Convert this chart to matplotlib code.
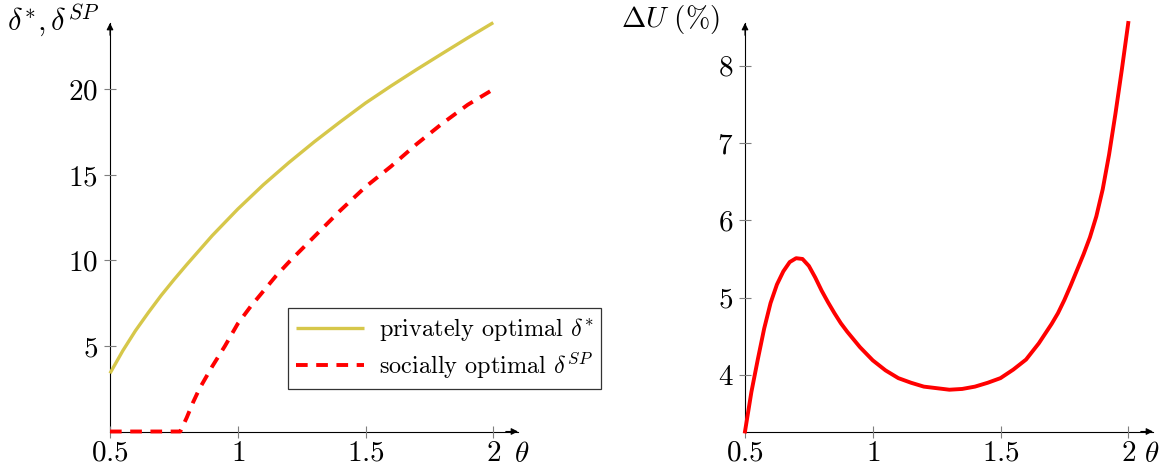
"""Optimal delta under private vs social choice, and welfare gain across theta."""
import numpy as np
import matplotlib
matplotlib.use('Agg')
import matplotlib.pyplot as plt

plt.rcParams['font.family'] = ['cmr10', 'DejaVu Serif']
plt.rcParams['mathtext.fontset'] = 'cm'
plt.rcParams['axes.unicode_minus'] = False

# left panel: privately vs socially optimal delta
theta_priv = [0.5, 0.55, 0.6, 0.65, 0.7, 0.75, 0.8, 0.9, 1.0, 1.1, 1.2, 1.3,
              1.4, 1.5, 1.6, 1.7, 1.8, 1.9, 2.0]
delta_priv = [3.4, 4.72, 5.9, 6.95, 7.95, 8.87, 9.75, 11.45, 13.0, 14.42, 15.72, 16.94,
              18.09, 19.2, 20.2, 21.16, 22.09, 23.01, 23.9]

theta_sp = [0.5, 0.6, 0.7, 0.775, 0.8, 0.825, 0.85, 0.9, 0.95, 1.0, 1.05, 1.1, 1.15, 1.2, 1.3,
            1.4, 1.5, 1.6, 1.7, 1.8, 1.9, 2.0]
delta_sp = [0.0, 0.0, 0.0, 0.0, 0.8, 1.7, 2.5, 3.8, 5.0, 6.3, 7.3, 8.2, 9.1, 9.9, 11.4,
            12.9, 14.3, 15.5, 16.8, 18.0, 19.1, 20.0]

# right panel: welfare gain in percent
theta_du = [0.5, 0.525, 0.55, 0.575, 0.6, 0.625, 0.65, 0.675, 0.7, 0.725, 0.75, 0.775, 0.8,
            0.825, 0.85, 0.875, 0.9, 0.95, 1.0, 1.05, 1.1, 1.15, 1.2, 1.25, 1.3, 1.35, 1.4,
            1.45, 1.5, 1.55, 1.6, 1.65, 1.7, 1.725, 1.75, 1.775, 1.8, 1.825, 1.85, 1.875,
            1.9, 1.925, 1.95, 1.975, 2.0]
delta_u = [3.27, 3.78, 4.2, 4.6, 4.93, 5.17, 5.34, 5.46, 5.51, 5.5, 5.41, 5.26, 5.09,
           4.94, 4.8, 4.67, 4.56, 4.36, 4.19, 4.06, 3.96, 3.9, 3.85, 3.83, 3.81, 3.82, 3.85,
           3.9, 3.96, 4.07, 4.2, 4.41, 4.66, 4.8, 4.97, 5.16, 5.36, 5.56, 5.78, 6.05,
           6.4, 6.85, 7.38, 7.95, 8.55]

x_ticks = [0.5, 1.0, 1.5, 2.0]
x_tick_labels = ['$0.5$', '$1$', '$1.5$', '$2$']
left_yticks = [5, 10, 15, 20]
right_yticks = [4, 5, 6, 7, 8]

W, H = 1166, 471
fig = plt.figure(figsize=(W / 100, H / 100), dpi=100)
ax1 = fig.add_axes([110 / W, 39.5 / H, 408 / W, 408.5 / H])
ax2 = fig.add_axes([745 / W, 39.5 / H, 408 / W, 408.5 / H])


def style_axis(ax, yticks):
    ax.spines['top'].set_visible(False)
    ax.spines['right'].set_visible(False)
    for s in ('left', 'bottom'):
        ax.spines[s].set_linewidth(0.8)
        ax.spines[s].set_zorder(1)
    ax.set_xticks(x_ticks)
    ax.set_xticklabels(x_tick_labels)
    ax.set_yticks(yticks)
    ax.set_yticklabels(['$%d$' % v for v in yticks])
    ax.tick_params(direction='inout', length=9, width=0.8, color='#7f7f7f',
                   labelsize=21, pad=2)
    ax.tick_params(axis='y', pad=4)
    # arrow heads at the end of both axis lines
    ax.annotate('', xy=(1, 0), xytext=(0.97, 0), xycoords='axes fraction',
                arrowprops=dict(arrowstyle='-|>', color='black', lw=0.8,
                                mutation_scale=10, shrinkA=0, shrinkB=0))
    ax.annotate('', xy=(0, 1), xytext=(0, 0.97), xycoords='axes fraction',
                arrowprops=dict(arrowstyle='-|>', color='black', lw=0.8,
                                mutation_scale=10, shrinkA=0, shrinkB=0))


x_max = 0.5 + 408 / 255.5

ax1.plot(theta_priv, delta_priv, color='#d6c74a', lw=2.4, solid_capstyle='butt',
         solid_joinstyle='round', label=r'privately optimal $\delta^{*}$', clip_on=False)
ax1.plot(theta_sp, delta_sp, color='#ff0000', lw=2.8, dashes=(3.0, 2.2),
         label=r'socially optimal $\delta^{SP}$', clip_on=False)
ax1.set_xlim(0.5, x_max)
ax1.set_ylim(0, 23.88)
style_axis(ax1, left_yticks)

leg = ax1.legend(loc='upper left', bbox_to_anchor=(288 / W, 1 - 308 / H),
                 bbox_transform=fig.transFigure, fontsize=17.5, frameon=True,
                 fancybox=False, edgecolor='black', handlelength=2.8,
                 handletextpad=0.6, borderpad=0.33, labelspacing=0.28,
                 borderaxespad=0)
leg.get_frame().set_linewidth(0.9)

ax2.plot(theta_du, delta_u, color='#ff0000', lw=2.8, solid_joinstyle='round', clip_on=False)
ax2.set_xlim(0.5, x_max)
ax2.set_ylim(3.27, 8.55)
style_axis(ax2, right_yticks)

fig.text(100 / W, 1 - 20 / H, r'$\delta^{*},\delta^{SP}$', ha='right', va='center', fontsize=22)
fig.text(720 / W, 1 - 20 / H, r'$\Delta U\ (\%)$', ha='right', va='center', fontsize=21)
fig.text(522 / W, 1 - 455 / H, r'$\theta$', ha='center', va='center', fontsize=21)
fig.text(1152 / W, 1 - 455 / H, r'$\theta$', ha='center', va='center', fontsize=21)

fig.savefig('out.png', dpi=100)
